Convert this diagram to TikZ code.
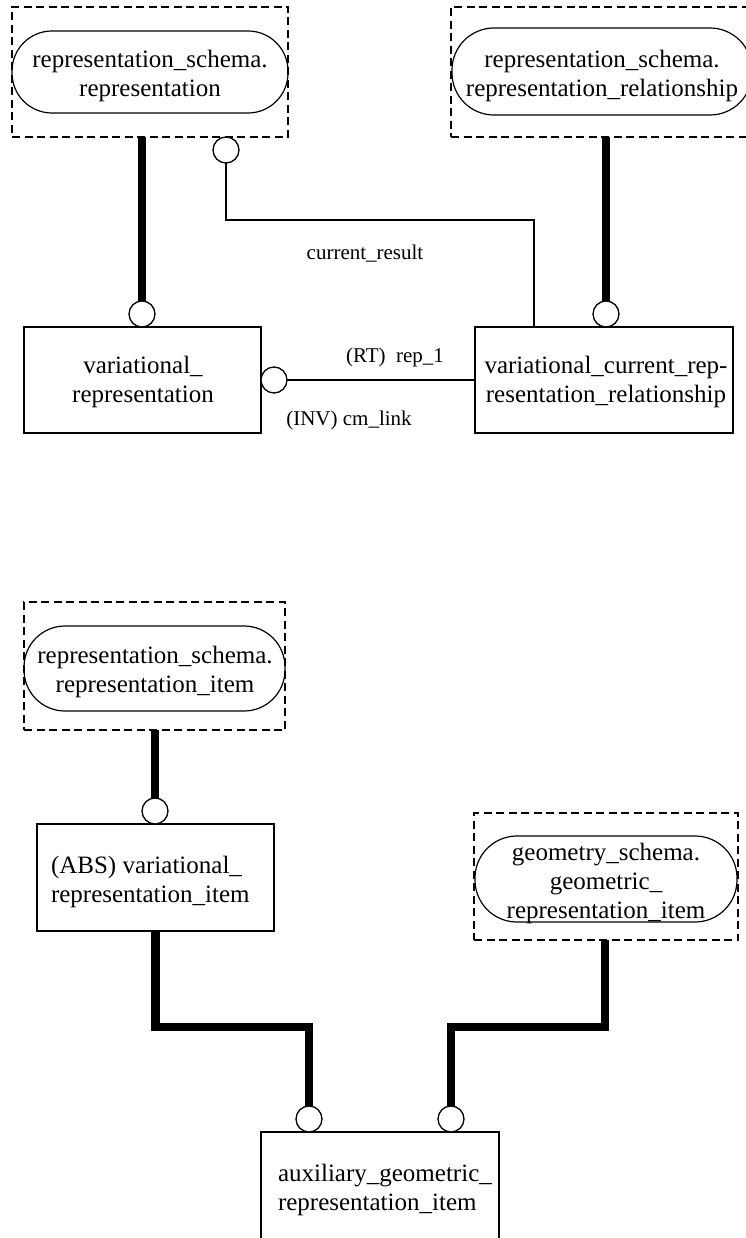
\documentclass[tikz,border=0pt]{standalone}
\usepackage{fontspec}
\setmainfont{Liberation Serif}
\begin{document}
\begin{tikzpicture}[x=1pt,y=-1pt,
  every node/.style={inner sep=0pt, outer sep=0pt},
  extframe/.style={draw, dash pattern=on 8pt off 4.5pt, line width=1.1pt},
  schemashape/.style={draw, rounded corners=#1, line width=1.2pt},
  entity/.style={draw, line width=1.3pt},
  entname/.style={font=\fontsize{25}{29}\selectfont, align=center},
  entnameleft/.style={font=\fontsize{25}{29}\selectfont, align=left, anchor=west},
  rolelabel/.style={font=\fontsize{21}{24}\selectfont},
  ring/.style={draw, circle, minimum size=26pt, line width=1.3pt, fill=white},
  supertype/.style={line width=8.5pt},
  attrline/.style={line width=1.2pt}]

\useasboundingbox (0,0) rectangle (746,1238);

% ---------- upper group ----------
\node[extframe, minimum width=276pt, minimum height=130pt] (A) at (150,72) {};
\node[schemashape=40pt, minimum width=276pt, minimum height=82pt] (Ash) at (150,72) {};
\node[entname] (At) at (150,76) {representation\_schema.\\representation};

\node[extframe, minimum width=303pt, minimum height=130pt] (B) at (602.5,72) {};
\node[schemashape=42pt, minimum width=300pt, minimum height=87pt] (Bsh) at (602,71.5) {};
\node[entname] (Bt) at (602,76) {representation\_schema.\\representation\_relationship};

\node[entity, minimum width=237pt, minimum height=106pt] (C) at (142.5,380) {};
\node[entname] (Ct) at (143,382) {variational\_\\representation};

\node[entity, minimum width=258pt, minimum height=106pt] (D) at (604,380) {};
\node[entname] (Dt) at (606,382) {variational\_current\_rep-\\resentation\_relationship};

\node[ring] (cC) at (142,314) {};
\node[ring] (cD) at (606,314) {};
\node[ring] (cA) at (226,150) {};
\node[ring] (cCr) at (274,380) {};

\draw[supertype] (A.south -| cC.north) -- (cC.north);
\draw[supertype] (B.south -| cD.north) -- (cD.north);

\coordinate (k) at (534,220);
\draw[attrline] (cA.south) |- (k) -- (k |- D.north);
\draw[attrline] (cCr.east) -- (D.west |- cCr.east);

\node[rolelabel] (lcur) at (365,254) {current\_result};
\node[rolelabel] (lrt) at (395,357) {(RT)\ \ rep\_1};
\node[rolelabel] (linv) at (349,420) {(INV) cm\_link};

% ---------- lower group ----------
\node[extframe, minimum width=261pt, minimum height=128pt] (E) at (154.5,666) {};
\node[schemashape=41pt, minimum width=261pt, minimum height=85pt] (Esh) at (154.5,668.5) {};
\node[entname] (Et) at (155,672) {representation\_schema.\\representation\_item};

\node[entity, minimum width=237pt, minimum height=107pt] (F) at (155.5,877.5) {};
\node[entnameleft] (Ft) at (51,882) {(ABS) variational\_\\representation\_item};

\node[extframe, minimum width=264pt, minimum height=127pt] (G) at (606,876.5) {};
\node[schemashape=42pt, minimum width=262pt, minimum height=86pt] (Gsh) at (606,879) {};
\node[entname] (Gt) at (606,883) {geometry\_schema.\\geometric\_\\representation\_item};

\node[entity, minimum width=238pt, minimum height=116pt] (H) at (380,1190) {};
\node[entnameleft] (Ht) at (278,1190) {auxiliary\_geometric\_\\representation\_item};

\node[ring] (cF) at (155,811) {};
\node[ring] (cH1) at (309,1119) {};
\node[ring] (cH2) at (451,1119) {};

\draw[supertype] (E.south -| cF.north) -- (cF.north);

\coordinate (jl) at (309,1027);
\coordinate (jr) at (451,1027);
\draw[supertype] (F.south) |- (jl) -- (cH1.north);
\draw[supertype] (G.south -| 605,0) |- (jr) -- (cH2.north);

\end{tikzpicture}
\end{document}
